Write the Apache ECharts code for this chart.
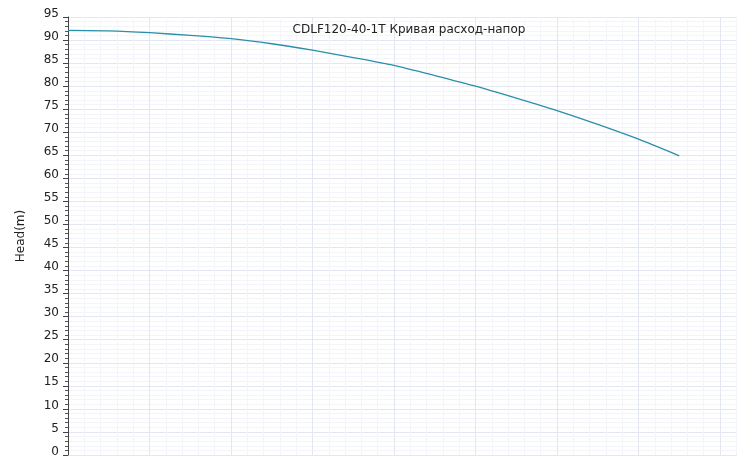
<!DOCTYPE html>
<html>
<head>
<meta charset="utf-8">
<script src="https://cdn.jsdelivr.net/npm/echarts@6/dist/echarts.min.js"></script>
<style>
  html, body { margin: 0; padding: 0; background: #fff; }
  #chart { width: 737px; height: 456px; }
</style>
</head>
<body>
<div id="chart"></div>
<script>
// 流量 (m3/h)
const flows = [0, 10, 20, 30, 40, 50, 60, 70, 80, 90, 100, 110, 120, 130, 140, 150]
// 扬程 (m)
const heads = [92.1, 92.0, 91.6, 91.0, 90.3, 89.2, 87.8, 86.2, 84.5, 82.3, 80.0, 77.4, 74.7, 71.7, 68.5, 64.9]
// y轴刻度
const yTicks = [0, 5, 10, 15, 20, 25, 30, 35, 40, 45, 50, 55, 60, 65, 70, 75, 80, 85, 90, 95]

const titleText = 'CDLF120-40-1T Кривая расход-напор'
const yName = 'Head(m)'

const chart = echarts.init(document.getElementById('chart'), null, { renderer: 'canvas' })

const option = {
  backgroundColor: '#fff',
  animation: false,
  textStyle: { fontFamily: 'DejaVu Sans' },
  title: {
    text: titleText,
    left: 404,
    top: 19,
    textAlign: 'center',
    textStyle: { fontSize: 12, fontWeight: 'normal', color: '#222', fontFamily: 'DejaVu Sans' }
  },
  grid: {
    left: 68,
    top: 17,
    right: -64.5,
    bottom: 1,
    containLabel: false,
    outerBoundsMode: 'none'
  },
  xAxis: {
    type: 'value',
    min: 0,
    max: 180,
    interval: 20,
    axisLine: { show: false },
    axisTick: { show: false },
    axisLabel: { show: false },
    splitLine: { show: true, lineStyle: { color: '#e3e7f1', width: 1 } },
    minorTick: { show: false, splitNumber: 5 },
    minorSplitLine: { show: true, lineStyle: { color: '#f3f5fa', width: 1 } }
  },
  yAxis: {
    type: 'value',
    min: yTicks[0],
    max: yTicks[yTicks.length - 1],
    interval: 5,
    name: yName,
    nameLocation: 'middle',
    nameGap: 41,
    nameTextStyle: { fontSize: 12, color: '#222', fontFamily: 'DejaVu Sans' },
    axisLine: { show: true, lineStyle: { color: '#444', width: 1 } },
    axisTick: { show: true, length: 5, lineStyle: { color: '#444' } },
    minorTick: { show: true, splitNumber: 5, length: 3, lineStyle: { color: '#555' } },
    axisLabel: {
      fontSize: 12,
      color: '#222',
      margin: 9,
      verticalAlign: 'bottom',
      lineHeight: 7,
      fontFamily: 'DejaVu Sans'
    },
    splitLine: { show: true, lineStyle: { color: '#e3e7f1', width: 1 } },
    minorSplitLine: { show: true, lineStyle: { color: '#f3f5fa', width: 1 } }
  },
  series: [
    {
      type: 'line',
      data: flows.map((f, i) => [f, heads[i]]),
      smooth: 0.2,
      showSymbol: false,
      lineStyle: { color: '#2a8fa8', width: 1.3 },
      itemStyle: { color: '#2a8fa8' }
    }
  ]
}
chart.setOption(option)
</script>
</body>
</html>
